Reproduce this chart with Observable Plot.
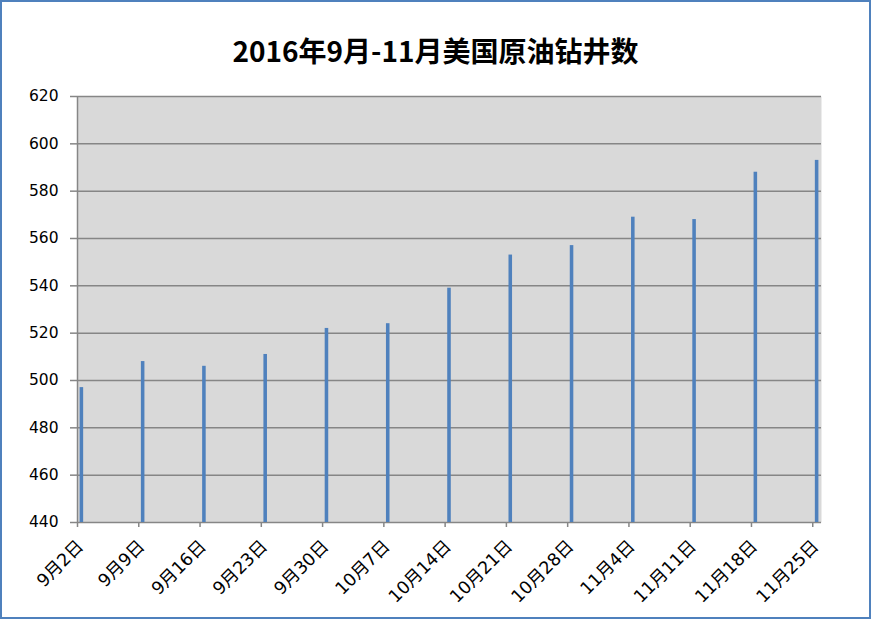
<!DOCTYPE html>
<html>
<head>
<meta charset="utf-8">
<script src="https://cdn.jsdelivr.net/npm/d3@7"></script>
<script src="https://cdn.jsdelivr.net/npm/@observablehq/plot@0.6"></script>
<style>
  html, body { margin: 0; padding: 0; background: #fff; }
  #wrap { position: relative; width: 871px; height: 619px; overflow: hidden; background: #fff; }
  #border { position: absolute; left: 0; top: 0; width: 871px; height: 619px; box-sizing: border-box; border: 2px solid #4f81bd; pointer-events: none; }
  #title { position: absolute; left: 0; top: 31px; width: 871px; text-align: center; font-family: "Noto Sans CJK SC", sans-serif; font-weight: bold; font-size: 28px; line-height: 38px; color: #000; }
  #chart { position: absolute; left: 0; top: 0; }
</style>
</head>
<body>
<div id="wrap">
  <div id="chart"></div>
  <div id="title">2016年9月-11月美国原油钻井数</div>
  <div id="border"></div>
</div>
<script>
const dates = ["2016-09-02","2016-09-09","2016-09-16","2016-09-23","2016-09-30","2016-10-07","2016-10-14","2016-10-21","2016-10-28","2016-11-04","2016-11-11","2016-11-18","2016-11-25"];
const rigCounts = [497, 508, 506, 511, 522, 524, 539, 553, 557, 569, 568, 588, 593];
const yTicks = [440, 460, 480, 500, 520, 540, 560, 580, 600, 620];
const axisEnd = "2016-11-26";

const data = dates.map((d, i) => ({date: new Date(d), next: d3.utcDay.offset(new Date(d), 1), base: yTicks[0], value: rigCounts[i]}));
const fmt = d => `${d.getUTCMonth() + 1}月${d.getUTCDate()}日`;
const tickDates = data.map(d => d.date);

const chart = Plot.plot({
  width: 871,
  height: 619,
  marginLeft: 77,
  marginRight: 50,
  marginTop: 96,
  marginBottom: 97,
  style: {fontFamily: "'DejaVu Sans', 'Noto Sans CJK SC', sans-serif", fontSize: "15px", color: "#000", background: "transparent"},
  x: {type: "utc", domain: [new Date(dates[0]), new Date(axisEnd)]},
  y: {domain: [yTicks[0], yTicks[yTicks.length - 1]]},
  marks: [
    Plot.frame({fill: "#d9d9d9", stroke: null}),
    Plot.gridY(yTicks, {stroke: "#868686", strokeOpacity: 1, strokeWidth: 1.5}),
    Plot.ruleX([new Date(dates[0])], {stroke: "#868686", strokeWidth: 1.5}),
    Plot.rect(data, {x1: "date", x2: "next", y1: "base", y2: "value", fill: "#4f81bd", insetLeft: 2.6, insetRight: 2.6}),
    Plot.axisY(yTicks, {tickSize: 7, tickPadding: 12, stroke: "#868686", strokeWidth: 1.5, fill: "#000", fontSize: 15.5, label: null}),
    Plot.axisX(tickDates, {tickFormat: () => "", tickSize: 5, stroke: "#868686", strokeWidth: 1.5, label: null}),
    Plot.axisX(tickDates, {tickFormat: fmt, tickRotate: -45, tickSize: 0, tickPadding: 21, dx: 3, fill: "#000", fontSize: 17.5, label: null})
  ]
});
document.getElementById("chart").appendChild(chart);
</script>
</body>
</html>
